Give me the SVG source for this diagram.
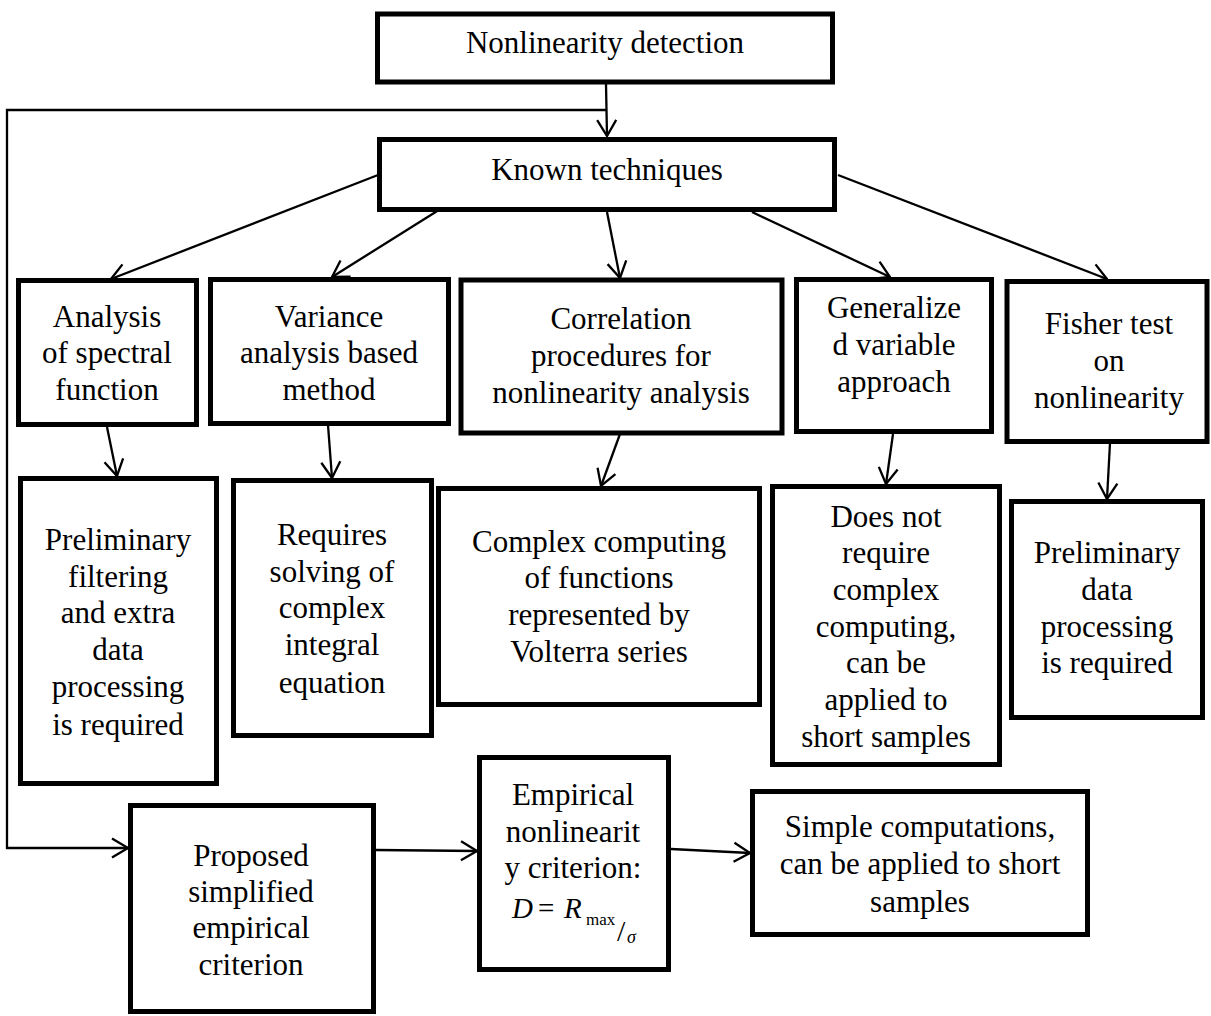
<svg xmlns="http://www.w3.org/2000/svg" width="1211" height="1016" viewBox="0 0 1211 1016">
<style>
.box{fill:#fff;stroke:#000;stroke-width:5}
.t{font-family:Liberation Serif,serif;font-size:31px;fill:#000;text-anchor:middle}
.c{fill:none;stroke:#000;stroke-width:2.3}
.m{font-family:Liberation Serif,serif;fill:#000}
</style>
<defs>
<marker id="ah" markerUnits="userSpaceOnUse" viewBox="0 0 18 22" refX="17" refY="11" markerWidth="18" markerHeight="22" orient="auto">
<path d="M1,1.5 L17,11 L1,20.5" fill="none" stroke="#000" stroke-width="2.3"/>
</marker>
</defs>
<rect width="1211" height="1016" fill="#fff"/>

<g id="connectors">
<line class="c" x1="606" y1="84" x2="607" y2="136" marker-end="url(#ah)"/>
<polyline class="c" points="606,110 7,110 7,848 128,848" marker-end="url(#ah)"/>
<line class="c" x1="378" y1="175" x2="111" y2="279" marker-end="url(#ah)"/>
<line class="c" x1="442" y1="208" x2="332" y2="277" marker-end="url(#ah)"/>
<line class="c" x1="607" y1="212" x2="620" y2="278" marker-end="url(#ah)"/>
<line class="c" x1="752" y1="212" x2="890" y2="277" marker-end="url(#ah)"/>
<line class="c" x1="838" y1="175" x2="1107" y2="279" marker-end="url(#ah)"/>
<line class="c" x1="107" y1="427" x2="117" y2="476" marker-end="url(#ah)"/>
<line class="c" x1="328" y1="425" x2="332" y2="478" marker-end="url(#ah)"/>
<line class="c" x1="620" y1="434" x2="601" y2="486" marker-end="url(#ah)"/>
<line class="c" x1="893" y1="434" x2="886" y2="484" marker-end="url(#ah)"/>
<line class="c" x1="1110" y1="443" x2="1107" y2="499" marker-end="url(#ah)"/>
<line class="c" x1="376" y1="850" x2="477" y2="851" marker-end="url(#ah)"/>
<line class="c" x1="671" y1="849" x2="750" y2="853" marker-end="url(#ah)"/>
</g>

<g id="n-detection">
<rect class="box" x="377.5" y="14" width="455" height="68"/>
<text class="t" x="605" y="53">Nonlinearity detection</text>
</g>
<g id="n-known">
<rect class="box" x="379.5" y="139.5" width="455" height="70"/>
<text class="t" x="607" y="180">Known techniques</text>
</g>

<g id="n-analysis">
<rect class="box" x="18.5" y="280.5" width="178" height="144"/>
<text class="t" x="107" y="327">Analysis</text>
<text class="t" x="107" y="363">of spectral</text>
<text class="t" x="107" y="400">function</text>
</g>
<g id="n-variance">
<rect class="box" x="210.5" y="279.5" width="238" height="144"/>
<text class="t" x="329" y="327">Variance</text>
<text class="t" x="329" y="363">analysis based</text>
<text class="t" x="329" y="400">method</text>
</g>
<g id="n-correlation">
<rect class="box" x="461" y="280" width="321" height="153"/>
<text class="t" x="621" y="329">Correlation</text>
<text class="t" x="621" y="366">procedures for</text>
<text class="t" x="621" y="403">nonlinearity analysis</text>
</g>
<g id="n-generalized">
<rect class="box" x="796.5" y="279.5" width="195" height="152"/>
<text class="t" x="894" y="318">Generalize</text>
<text class="t" x="894" y="355">d variable</text>
<text class="t" x="894" y="392">approach</text>
</g>
<g id="n-fisher">
<rect class="box" x="1007" y="281.5" width="200" height="160"/>
<text class="t" x="1109" y="334">Fisher test</text>
<text class="t" x="1109" y="371">on</text>
<text class="t" x="1109" y="408">nonlinearity</text>
</g>

<g id="n-prelim-filtering">
<rect class="box" x="20.5" y="478.5" width="196" height="305"/>
<text class="t" x="118" y="550">Preliminary</text>
<text class="t" x="118" y="587">filtering</text>
<text class="t" x="118" y="623">and extra</text>
<text class="t" x="118" y="660">data</text>
<text class="t" x="118" y="697">processing</text>
<text class="t" x="118" y="735">is required</text>
</g>
<g id="n-requires">
<rect class="box" x="233.5" y="480.5" width="198" height="255"/>
<text class="t" x="332" y="545">Requires</text>
<text class="t" x="332" y="582">solving of</text>
<text class="t" x="332" y="618">complex</text>
<text class="t" x="332" y="655">integral</text>
<text class="t" x="332" y="693">equation</text>
</g>
<g id="n-complex">
<rect class="box" x="438.5" y="488.5" width="321" height="216"/>
<text class="t" x="599" y="552">Complex computing</text>
<text class="t" x="599" y="588">of functions</text>
<text class="t" x="599" y="625">represented by</text>
<text class="t" x="599" y="662">Volterra series</text>
</g>
<g id="n-doesnot">
<rect class="box" x="772.5" y="486.5" width="227" height="278"/>
<text class="t" x="886" y="527">Does not</text>
<text class="t" x="886" y="563">require</text>
<text class="t" x="886" y="600">complex</text>
<text class="t" x="886" y="637">computing,</text>
<text class="t" x="886" y="673">can be</text>
<text class="t" x="886" y="710">applied to</text>
<text class="t" x="886" y="747">short samples</text>
</g>
<g id="n-prelim-data">
<rect class="box" x="1011.5" y="501.5" width="191" height="216"/>
<text class="t" x="1107" y="563">Preliminary</text>
<text class="t" x="1107" y="600">data</text>
<text class="t" x="1107" y="637">processing</text>
<text class="t" x="1107" y="673">is required</text>
</g>

<g id="n-proposed">
<rect class="box" x="130.5" y="805.5" width="243" height="206"/>
<text class="t" x="251" y="866">Proposed</text>
<text class="t" x="251" y="902">simplified</text>
<text class="t" x="251" y="938">empirical</text>
<text class="t" x="251" y="975">criterion</text>
</g>
<g id="n-empirical">
<rect class="box" x="479.5" y="757.5" width="189" height="212"/>
<text class="t" x="573" y="805">Empirical</text>
<text class="t" x="573" y="842">nonlinearit</text>
<text class="t" x="573" y="878">y criterion:</text>
<text class="m" x="512" y="918" font-size="29" font-style="italic">D</text>
<text class="m" x="538" y="918" font-size="29">=</text>
<text class="m" x="564" y="918" font-size="29" font-style="italic">R</text>
<text class="m" x="586" y="925" font-size="17">max</text>
<text class="m" x="617" y="941" font-size="30" fill="#555">/</text>
<text class="m" x="627" y="943" font-size="18" font-style="italic">σ</text>
</g>
<g id="n-simple">
<rect class="box" x="752.5" y="791.5" width="335" height="143"/>
<text class="t" x="920" y="837">Simple computations,</text>
<text class="t" x="920" y="874">can be applied to short</text>
<text class="t" x="920" y="912">samples</text>
</g>
</svg>
